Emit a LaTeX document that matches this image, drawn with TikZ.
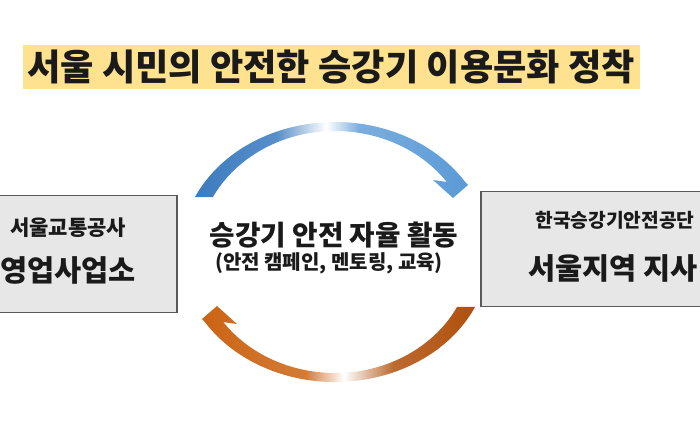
\documentclass[tikz,border=0pt]{standalone}
\usepackage{fontspec}
\setmainfont{Noto Sans CJK KR}
\usetikzlibrary{arrows.meta}

\definecolor{titlegold}{HTML}{FFE28F}
\definecolor{boxgray}{HTML}{E7E7E7}
\definecolor{boxline}{HTML}{5A5A5A}
\definecolor{bluestartc}{HTML}{3B7BBF}
\definecolor{bluetipc}{HTML}{5A9AD6}
\definecolor{orangestartc}{HTML}{B0500C}
\definecolor{orangetipc}{HTML}{CB6414}
\definecolor{inkdark}{HTML}{1A1A1A}

% fades: the path box covers 25bp..75bp
\pgfdeclarehorizontalshading{bluefade}{100bp}{color(0bp)=(bluestartc); color(25bp)=(bluestartc);
  color(40bp)=(bluestartc!85!white); color(49bp)=(white); color(55bp)=(bluetipc!80!white);
  color(75bp)=(bluetipc); color(100bp)=(bluetipc)}
\pgfdeclarehorizontalshading{orangefade}{100bp}{color(0bp)=(orangetipc); color(25bp)=(orangetipc);
  color(44bp)=(orangetipc!85!white); color(51bp)=(white); color(60bp)=(orangestartc!85!white);
  color(75bp)=(orangestartc); color(100bp)=(orangestartc)}

\begin{document}
\begin{tikzpicture}[x=1pt,y=-1pt,text=inkdark,
    unitbox/.style={draw=boxline, fill=boxgray, line width=1.2pt, inner sep=0pt}]

\path[use as bounding box, clip] (0,0) rectangle (700,440);

% Title bar
\node[fill=titlegold, minimum width=617pt, minimum height=44pt, inner sep=0pt,
      font=\bfseries\fontsize{36.2}{36.2}\selectfont] (title) at (331,67) {서울 시민의 안전한 승강기 이용문화 정착};

% Two partner boxes, cut off by the page edge
\foreach \name/\cx/\cy/\w/\h in {metro/68/254/218/117, kesa/615/249/268/115} {
    \node[unitbox, minimum width=\w pt, minimum height=\h pt] (\name) at (\cx,\cy) {};
}
\node[font=\bfseries\fontsize{21}{21}\selectfont] (metrotop) at (68,228) {서울교통공사};
\node[font=\bfseries\fontsize{29.5}{29.5}\selectfont] (metrobottom) at (68,270) {영업사업소};
\node[font=\bfseries\fontsize{19.2}{19.2}\selectfont] (kesatop) at (615,220) {한국승강기안전공단};
\node[font=\bfseries\fontsize{29.5}{29.5}\selectfont] (kesabottom) at (613,268) {서울지역 지사};

% Centre text
\node[font=\bfseries\fontsize{27.7}{27.7}\selectfont] (activity) at (334,235) {승강기 안전 자율 활동};
\node[font=\bfseries\fontsize{20}{20}\selectfont] (activitydetail) at (329,263) {(안전 캠페인, 멘토링, 교육)};

% Cycle arrows: the orange one is the blue one turned half round (335,252)
\foreach \turn/\sgn/\fade in {0/1/bluefade, 180/-1/orangefade} {
    \shade[shading=\fade]
        ({335+154.5*cos(155+\turn)},{252-130*sin(155+\turn)})
        arc[start angle=155+\turn, end angle=32.6+\turn, x radius=154.5pt, y radius=130pt]
        -- ({335+\sgn*133},{252-\sgn*67})
        -- ({335+\sgn*118},{252-\sgn*54})
        -- ({335+\sgn*98},{252-\sgn*72})
        -- ({335+137*cos(35.4+\turn)},{252-121*sin(35.4+\turn)})
        arc[start angle=35.4+\turn, end angle=153+\turn, x radius=137pt, y radius=121pt]
        -- cycle;
}

\end{tikzpicture}
\end{document}
